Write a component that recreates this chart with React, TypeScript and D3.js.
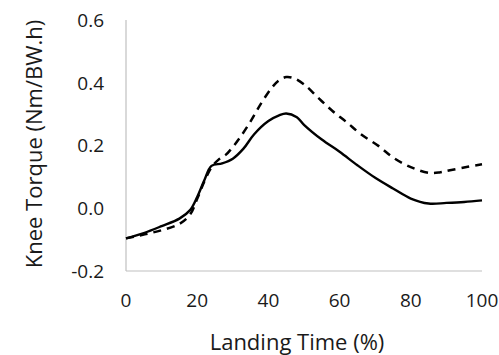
import React, { useEffect, useRef } from 'react';
import { select, scaleLinear, line, curveCatmullRom } from 'd3';

// landing time (%) and knee torque (Nm/BW.h)
const solidTime = [0, 5, 10, 15, 18, 20, 22, 24, 27, 30, 33, 36, 40, 43, 45, 48, 50, 55, 60, 65, 70, 75, 80, 85, 90, 95, 100];
const solidTorque = [-0.096, -0.079, -0.057, -0.033, -0.006, 0.036, 0.089, 0.135, 0.143, 0.158, 0.19, 0.236, 0.278, 0.296, 0.302, 0.29, 0.266, 0.219, 0.18, 0.137, 0.097, 0.063, 0.031, 0.015, 0.017, 0.02, 0.025];

const dashedTime = [0, 5, 10, 15, 18, 20, 22, 24, 26, 28, 30, 32, 35, 38, 41, 43, 45, 47, 50, 54, 58, 62, 66, 71, 75, 80, 85, 88, 91, 96, 100];
const dashedTorque = [-0.096, -0.084, -0.07, -0.05, -0.02, 0.03, 0.085, 0.13, 0.155, 0.17, 0.195, 0.225, 0.277, 0.335, 0.385, 0.408, 0.418, 0.415, 0.395, 0.352, 0.31, 0.274, 0.236, 0.198, 0.162, 0.131, 0.113, 0.114, 0.121, 0.132, 0.14];

const xTicks = [0, 20, 40, 60, 80, 100];
const yTicks = [-0.2, 0, 0.2, 0.4, 0.6];

export default function App() {
    const ref = useRef<SVGSVGElement>(null);

    useEffect(() => {
        const config = {
            width: 499,
            height: 355,
            font: '"Open Sans", sans-serif',
            textColor: '#1a1a1a',
            axisColor: '#c0c0c0',
            margins: { t: 20, b: 84, r: 17, l: 126 }
        };

        const x = scaleLinear().domain([0, 100]).range([config.margins.l, config.width - config.margins.r]);
        const y = scaleLinear().domain([-0.2, 0.6]).range([config.height - config.margins.b, config.margins.t]);

        const svg = select(ref.current);
        svg.selectAll('*').remove();

        // axis lines, no tick marks
        svg.append('line')
            .attr('x1', x(0)).attr('x2', x(0))
            .attr('y1', y(0.6)).attr('y2', y(-0.2))
            .attr('stroke', config.axisColor).attr('stroke-width', 1.2);
        svg.append('line')
            .attr('x1', x(0)).attr('x2', x(100))
            .attr('y1', y(-0.2)).attr('y2', y(-0.2))
            .attr('stroke', config.axisColor).attr('stroke-width', 1.2);

        svg.selectAll('.ytick').data(yTicks).join('text')
            .attr('class', 'ytick')
            .attr('x', x(0) - 22)
            .attr('y', (d) => y(d))
            .attr('dy', '0.36em')
            .attr('text-anchor', 'end')
            .attr('font-family', config.font)
            .attr('font-size', 19)
            .attr('fill', config.textColor)
            .text((d) => d.toFixed(1));

        svg.selectAll('.xtick').data(xTicks).join('text')
            .attr('class', 'xtick')
            .attr('x', (d) => x(d))
            .attr('y', y(-0.2) + 36)
            .attr('text-anchor', 'middle')
            .attr('font-family', config.font)
            .attr('font-size', 19)
            .attr('fill', config.textColor)
            .text((d) => String(d));

        svg.append('text')
            .attr('x', 297)
            .attr('y', 350)
            .attr('text-anchor', 'middle')
            .attr('font-family', config.font)
            .attr('font-size', 22)
            .attr('fill', config.textColor)
            .text('Landing Time (%)');

        svg.append('text')
            .attr('transform', 'translate(42,144) rotate(-90)')
            .attr('text-anchor', 'middle')
            .attr('font-family', config.font)
            .attr('font-size', 22)
            .attr('fill', config.textColor)
            .text('Knee Torque (Nm/BW.h)');

        const path = line<number>()
            .x((d, i) => x(d))
            .curve(curveCatmullRom.alpha(0.5));

        svg.append('path')
            .attr('d', path.y((d, i) => y(dashedTorque[i]))(dashedTime))
            .attr('fill', 'none')
            .attr('stroke', '#000')
            .attr('stroke-width', 2.5)
            .attr('stroke-dasharray', '8,6');

        svg.append('path')
            .attr('d', path.y((d, i) => y(solidTorque[i]))(solidTime))
            .attr('fill', 'none')
            .attr('stroke', '#000')
            .attr('stroke-width', 2.4);
    }, []);

    return (
        <svg ref={ref} width={499} height={355}
            style={{ position: 'absolute', left: 0, top: 0, background: '#fff' }} />
    );
}
